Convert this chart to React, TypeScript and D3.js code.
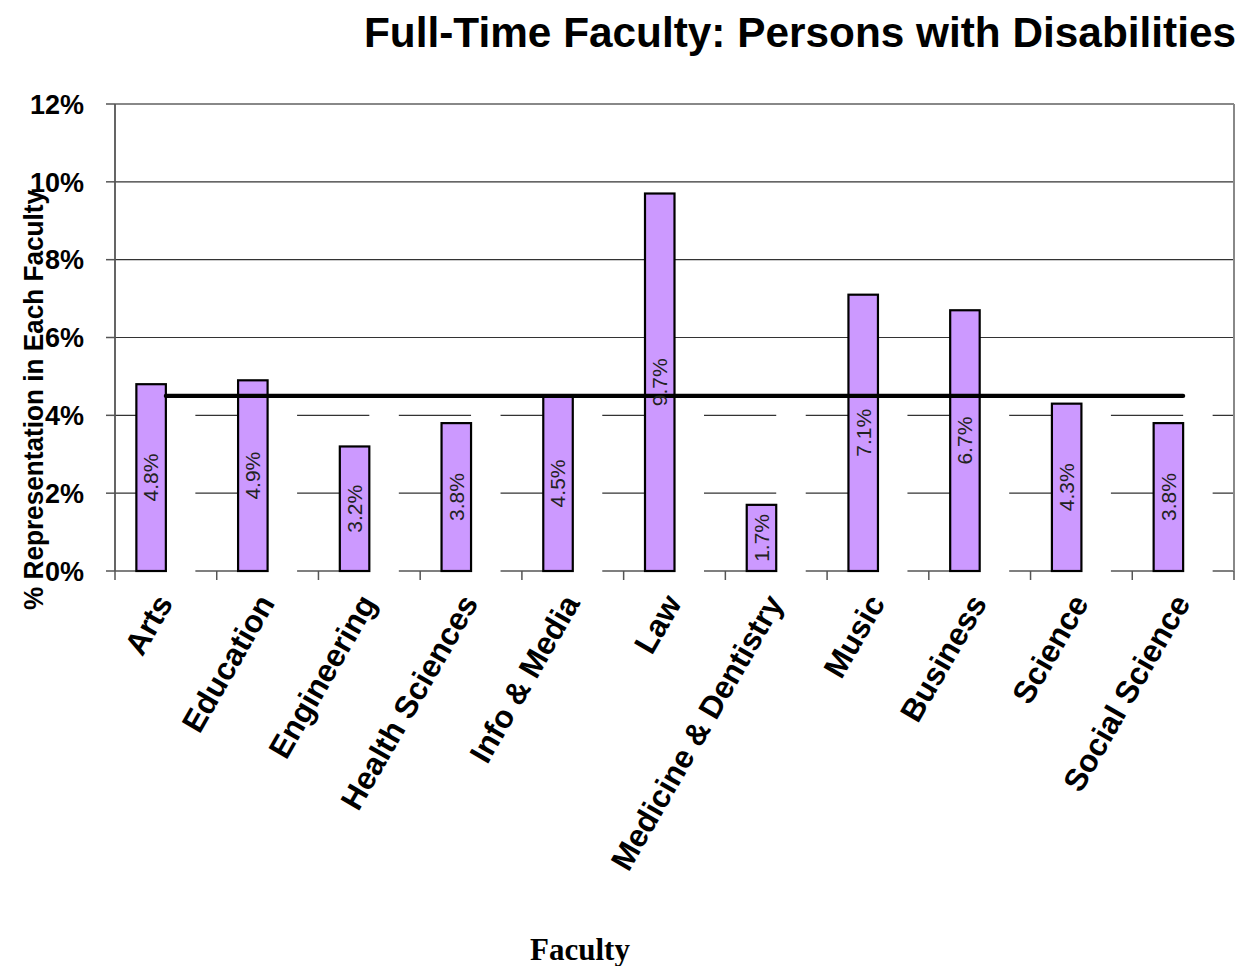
import React from "react";
import * as d3 from "d3";

const categories = [
  "Arts",
  "Education",
  "Engineering",
  "Health Sciences",
  "Info & Media",
  "Law",
  "Medicine & Dentistry",
  "Music",
  "Business",
  "Science",
  "Social Science",
];
const representation = [4.8, 4.9, 3.2, 3.8, 4.5, 9.7, 1.7, 7.1, 6.7, 4.3, 3.8];
const benchmark = [4.5, 4.5, 4.5, 4.5, 4.5, 4.5, 4.5, 4.5, 4.5, 4.5, 4.5];
const yTicks = [0, 2, 4, 6, 8, 10, 12];
const title = "Full-Time Faculty: Persons with Disabilities";
const yTitle = "% Representation in Each Faculty";
const xTitle = "Faculty";

const W = 1241;
const H = 966;
const left = 115;
const right = 1234;
const top = 104;
const bottom = 571;

export default function App() {
  const x = d3.scaleBand<string>().domain(categories).range([left, right]).padding(0);
  const y = d3.scaleLinear().domain([0, 12]).range([bottom, top]);
  const barW = 29.5;
  const center = (c: string) => (x(c) as number) + x.bandwidth() / 2;
  const inner = d3.scaleBand<string>().domain(["pct", "bench"]).range([-barW, barW]).padding(0);

  const line = d3
    .line<number>()
    .x((_, i) => center(categories[i]))
    .y((d) => y(d));

  const sans = "'Liberation Sans', Arial, sans-serif";
  const boundaries = categories.map((c) => x(c) as number).concat([right]);

  return (
    <svg width={W} height={H} style={{ position: "absolute", left: 0, top: 0, background: "#fff" }}>
      <rect x={0} y={0} width={W} height={H} fill="#fff" />
      {/* title */}
      <text
        x={364}
        y={47}
        fontFamily={sans}
        fontWeight="bold"
        fontSize={42}
        textLength={872}
        lengthAdjust="spacingAndGlyphs"
        fill="#000"
      >
        {title}
      </text>

      {/* gridlines */}
      {yTicks.filter((t) => t > 0 && t < 12).map((t) => (
        <line key={t} x1={left} x2={right} y1={y(t)} y2={y(t)} stroke="#333" strokeWidth={1.2} />
      ))}
      {/* zero axis line */}
      <line x1={left} x2={right} y1={y(0)} y2={y(0)} stroke="#555" strokeWidth={1.5} />
      {/* plot border top/right */}
      <line x1={left} x2={right} y1={y(12)} y2={y(12)} stroke="#888" strokeWidth={2} />
      <line x1={right} x2={right} y1={y(12)} y2={y(0)} stroke="#888" strokeWidth={2} />

      {/* hidden benchmark bars (white) */}
      {categories.map((c, i) => (
        <rect
          key={"b" + c}
          x={center(c) + (inner("bench") as number)}
          y={y(benchmark[i])}
          width={inner.bandwidth()}
          height={y(0) - y(benchmark[i]) + 1}
          fill="#fff"
        />
      ))}

      {/* x ticks */}
      {boundaries.map((bx, i) => (
        <line key={"xt" + i} x1={bx} x2={bx} y1={y(0)} y2={y(0) + 9} stroke="#555" strokeWidth={1.5} />
      ))}

      {/* y axis */}
      <line x1={left} x2={left} y1={y(12)} y2={y(0)} stroke="#555" strokeWidth={1.8} />
      {yTicks.map((t) => (
        <g key={"yt" + t}>
          <line x1={left - 9} x2={left} y1={y(t)} y2={y(t)} stroke="#555" strokeWidth={1.5} />
          <text
            x={84}
            y={y(t)}
            dy="0.36em"
            textAnchor="end"
            fontFamily={sans}
            fontWeight="bold"
            fontSize={27}
            fill="#000"
          >
            {t + "%"}
          </text>
        </g>
      ))}

      {/* bars */}
      {categories.map((c, i) => (
        <rect
          key={"r" + c}
          x={center(c) + (inner("pct") as number)}
          y={y(representation[i])}
          width={inner.bandwidth()}
          height={y(0) - y(representation[i])}
          fill="#CC99FF"
          stroke="#000"
          strokeWidth={2.2}
        />
      ))}

      {/* benchmark line */}
      <path d={line(benchmark) as string} fill="none" stroke="#000" strokeWidth={4.2} strokeLinecap="round" />

      {/* bar labels */}
      {categories.map((c, i) => {
        const cx = center(c) + (inner("pct") as number) + inner.bandwidth() / 2;
        const cy = (y(representation[i]) + y(0)) / 2;
        return (
          <text
            key={"l" + c}
            transform={`translate(${cx},${cy}) rotate(-90)`}
            dy="0.35em"
            textAnchor="middle"
            fontFamily={sans}
            fontSize={21}
            fill="#222"
          >
            {representation[i].toFixed(1) + "%"}
          </text>
        );
      })}

      {/* x labels */}
      {categories.map((c) => (
        <text
          key={"x" + c}
          transform={`translate(${center(c) + 8},603) rotate(-60)`}
          textAnchor="end"
          fontFamily={sans}
          fontWeight="bold"
          fontSize={31.5}
          fill="#000"
        >
          {c}
        </text>
      ))}

      {/* y title */}
      <text
        transform={`translate(43,400) rotate(-90)`}
        textAnchor="middle"
        fontFamily={sans}
        fontWeight="bold"
        fontSize={28}
        textLength={420}
        lengthAdjust="spacingAndGlyphs"
        fill="#000"
      >
        {yTitle}
      </text>

      {/* x title */}
      <text
        x={580}
        y={960}
        textAnchor="middle"
        fontFamily="'Liberation Serif', 'Times New Roman', serif"
        fontWeight="bold"
        fontSize={31}
        fill="#000"
      >
        {xTitle}
      </text>
    </svg>
  );
}
